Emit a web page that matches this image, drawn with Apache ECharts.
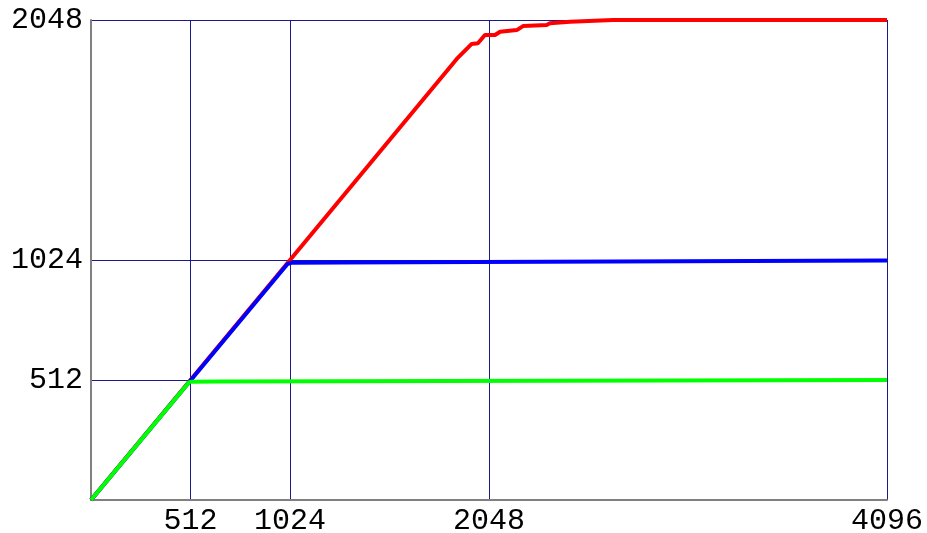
<!DOCTYPE html>
<html>
<head>
<meta charset="utf-8">
<script src="https://cdn.jsdelivr.net/npm/echarts@6/dist/echarts.min.js"></script>
<style>html,body{margin:0;padding:0;background:#fff;}#c{width:927px;height:533px;}</style>
</head>
<body>
<div id="c"></div>
<script>
var xTicks = [512, 1024, 2048, 4096];
var yTicks = [512, 1024, 2048];
var redX = [0, 1882, 1959, 1991, 2027, 2079, 2105, 2191, 2223, 2345, 2361, 2465, 2686, 4096];
var redY = [0, 1882, 1946, 1949, 1984, 1984, 1998, 2005, 2022, 2027, 2034, 2041, 2048, 2048];
var blueX = [0, 1010, 1030, 1290, 1300, 4096];
var blueY = [0, 1006, 1012, 1013, 1020, 1022];
var greenX = [0, 505, 520, 660, 670, 4096];
var greenY = [0, 503, 505, 506, 510, 512];

function pairs(xs, ys) { return xs.map(function (x, i) { return [x, ys[i]]; }); }

var font = 'Liberation Mono, Courier New, monospace';
var chart = echarts.init(document.getElementById('c'), null, {renderer: 'canvas'});
function mk(name, xs, ys, color, z) {
  return {
    name: name, type: 'line', data: pairs(xs, ys), showSymbol: false, symbol: 'none',
    lineStyle: {color: color, width: 4}, z: z, animation: false
  };
}
function fmt(v) { return String(v); }
chart.setOption({
  animation: false,
  backgroundColor: '#ffffff',
  grid: {left: 91, right: 40, top: 20, bottom: 33, containLabel: false, outerBoundsMode: 'none'},
  xAxis: {
    type: 'value', min: 0, max: 4096,
    axisLine: {show: true, onZero: false, lineStyle: {color: '#808080', width: 2}},
    axisTick: {show: false, customValues: xTicks},
    axisLabel: {customValues: xTicks, formatter: fmt, color: '#000', fontFamily: font, fontSize: 30, margin: 6},
    splitLine: {show: true, lineStyle: {color: '#1a1a8c', width: 1}}
  },
  yAxis: {
    type: 'value', min: 0, max: 2048,
    axisLine: {show: true, onZero: false, lineStyle: {color: '#808080', width: 2}},
    axisTick: {show: false, customValues: yTicks},
    axisLabel: {customValues: yTicks, formatter: fmt, color: '#000', fontFamily: font, fontSize: 30, margin: 8},
    splitLine: {show: true, lineStyle: {color: '#1a1a8c', width: 1}}
  },
  series: [
    mk('red', redX, redY, '#ff0000', 2),
    mk('blue', blueX, blueY, '#0000ff', 3),
    mk('green', greenX, greenY, '#00ff00', 4)
  ]
});
</script>
</body>
</html>
